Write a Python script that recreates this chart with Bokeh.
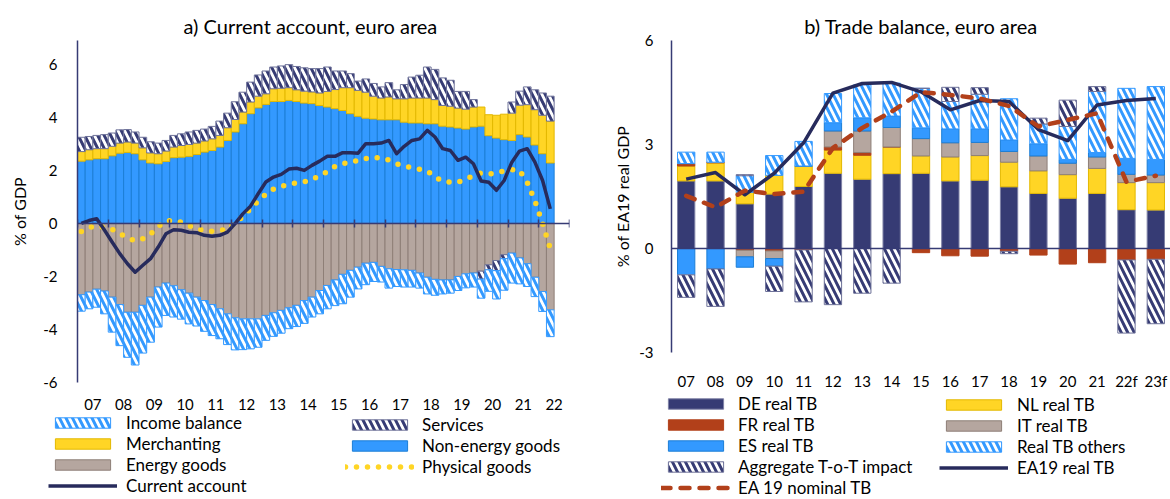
import numpy as np
from bokeh.plotting import figure
from bokeh.models import Range1d, FixedTicker, LinearAxis, Legend, LegendItem, Span
from bokeh.layouts import row, column
from bokeh.embed import file_html
from bokeh.resources import INLINE

# ---------------- data: panel a (quarterly, 2007Q1-2022Q2) ----------------
year_labels_a = ["07", "08", "09", "10", "11", "12", "13", "14", "15", "16",
                 "17", "18", "19", "20", "21", "22"]
first_year_a = 2007
y_ticks_a = [-6, -4, -2, 0, 2, 4, 6]

non_energy = [2.35, 2.40, 2.44, 2.44, 2.55, 2.65, 2.68, 2.63, 2.40, 2.28,
              2.25, 2.34, 2.48, 2.50, 2.53, 2.60, 2.69, 2.75, 2.88, 3.13,
              3.45, 3.76, 4.14, 4.36, 4.49, 4.60, 4.60, 4.64, 4.60, 4.54,
              4.52, 4.45, 4.39, 4.33, 4.26, 4.14, 4.04, 3.97, 3.94, 3.91,
              3.91, 3.91, 3.82, 3.79, 3.79, 3.76, 3.76, 3.67, 3.64, 3.60,
              3.56, 3.64, 3.67, 3.31, 3.22, 3.16, 3.13, 3.35, 3.26, 2.96,
              2.63, 2.28]
merchanting = [0.36, 0.38, 0.38, 0.38, 0.36, 0.38, 0.39, 0.40, 0.45, 0.38,
               0.38, 0.39, 0.40, 0.44, 0.45, 0.43, 0.42, 0.44, 0.44, 0.48,
               0.47, 0.44, 0.44, 0.44, 0.40, 0.48, 0.50, 0.48, 0.44, 0.45,
               0.44, 0.47, 0.59, 0.72, 0.86, 0.98, 0.98, 0.98, 0.86, 0.82,
               0.86, 0.79, 0.88, 0.94, 0.94, 0.97, 0.91, 0.78, 0.78, 0.75,
               0.75, 0.75, 0.72, 0.79, 0.86, 0.96, 1.03, 1.11, 1.22, 1.33,
               1.45, 1.58]
services = [0.54, 0.50, 0.50, 0.53, 0.50, 0.50, 0.47, 0.42, 0.40, 0.42,
            0.40, 0.40, 0.44, 0.44, 0.47, 0.48, 0.45, 0.47, 0.54, 0.55,
            0.67, 0.75, 0.75, 0.80, 0.86, 0.82, 0.84, 0.87, 0.88, 0.88,
            0.88, 0.92, 0.92, 0.70, 0.63, 0.53, 0.35, 0.50, 0.48, 0.42,
            0.54, 0.34, 0.54, 0.79, 0.86, 1.17, 1.14, 1.04, 0.98, 0.63,
            0.67, 0.28, -0.30, -0.19, -0.38, -0.15, 0.42, 0.53, 0.67, 0.75,
            0.84, 0.94]
energy = [-2.69, -2.59, -2.48, -2.55, -2.78, -3.06, -3.35, -3.35, -3.09, -2.78,
          -2.40, -2.25, -2.35, -2.50, -2.63, -2.78, -2.91, -3.06, -3.22, -3.41,
          -3.56, -3.60, -3.60, -3.60, -3.47, -3.37, -3.28, -3.18, -3.09, -2.91,
          -2.78, -2.53, -2.34, -2.13, -1.92, -1.77, -1.65, -1.50, -1.47, -1.62,
          -1.71, -1.74, -1.75, -1.77, -1.87, -2.03, -2.11, -2.13, -2.13, -2.00,
          -1.90, -1.87, -1.80, -1.56, -1.40, -1.18, -1.12, -1.30, -1.52, -2.03,
          -2.57, -3.26]
income = [-0.62, -0.63, -0.68, -0.86, -1.32, -1.55, -1.70, -1.99, -1.80, -1.70,
          -1.51, -1.22, -1.18, -1.11, -1.16, -1.09, -1.16, -1.17, -1.13, -1.16,
          -1.21, -1.16, -1.13, -1.07, -0.94, -0.89, -0.86, -0.79, -0.80, -0.86,
          -0.75, -0.88, -0.88, -0.97, -1.11, -1.01, -0.82, -0.81, -0.72, -0.59,
          -0.73, -0.64, -0.65, -0.63, -0.57, -0.63, -0.60, -0.53, -0.50, -0.53,
          -0.53, -0.53, -0.72, -0.81, -1.07, -1.19, -1.13, -0.98, -0.86, -0.73,
          -0.75, -1.01]
current_account = [0.00, 0.11, 0.18, -0.25, -0.70, -1.14, -1.52, -1.84, -1.58, -1.33,
                   -0.89, -0.39, -0.24, -0.26, -0.33, -0.35, -0.45, -0.48, -0.45, -0.33,
                   -0.01, 0.36, 0.65, 1.12, 1.56, 1.75, 1.85, 2.05, 2.08, 2.00,
                   2.19, 2.35, 2.53, 2.53, 2.67, 2.67, 2.65, 3.01, 3.01, 3.03,
                   3.13, 2.63, 2.91, 3.13, 3.19, 3.51, 3.26, 2.82, 2.75, 2.38,
                   2.50, 2.25, 1.60, 1.55, 1.25, 1.62, 2.31, 2.73, 2.82, 2.31,
                   1.62, 0.55]
physical_goods = [-0.30, -0.15, -0.10, -0.15, -0.22, -0.38, -0.55, -0.66, -0.58, -0.40,
                  -0.12, 0.10, 0.11, 0.05, -0.08, -0.20, -0.27, -0.30, -0.27, -0.22,
                  0.03, 0.25, 0.55, 0.85, 1.10, 1.30, 1.40, 1.48, 1.53, 1.57,
                  1.65, 1.80, 1.95, 2.15, 2.26, 2.30, 2.38, 2.45, 2.50, 2.46,
                  2.39, 2.25, 2.16, 2.10, 2.04, 1.98, 1.75, 1.60, 1.55, 1.55,
                  1.68, 1.80, 1.90, 1.86, 1.90, 1.98, 2.03, 2.00, 1.55, 0.85,
                  0.00, -0.95]

# ---------------- data: panel b (annual, 2007-2023f) ----------------
cats_b = ["07", "08", "09", "10", "11", "12", "13", "14", "15", "16", "17",
          "18", "19", "20", "21", "22f", "23f"]
y_ticks_b = [-3, 0, 3, 6]
de_tb = [1.95, 1.95, 1.29, 1.57, 1.79, 2.17, 2.00, 2.16, 2.17, 1.95, 1.97, 1.78, 1.59, 1.45, 1.59, 1.12, 1.11]
nl_tb = [0.43, 0.52, 0.33, 0.54, 0.59, 0.67, 0.69, 0.77, 0.50, 0.69, 0.71, 0.71, 0.65, 0.68, 0.72, 0.78, 0.79]
fr_tb = [0.07, 0.02, -0.05, -0.07, -0.04, 0.09, 0.08, 0.00, -0.12, -0.21, -0.22, -0.08, -0.19, -0.45, -0.41, -0.33, -0.31]
it_tb = [0.00, 0.00, -0.19, -0.22, 0.00, 0.46, 0.62, 0.56, 0.50, 0.41, 0.38, 0.31, 0.43, 0.33, 0.33, 0.24, 0.22]
es_tb = [-0.76, -0.59, -0.30, -0.22, 0.00, 0.24, 0.38, 0.33, 0.31, 0.40, 0.39, 0.33, 0.35, 0.11, 0.13, 0.46, 0.45]
others_tb = [0.33, 0.29, 0.48, 0.57, 0.71, 0.84, 0.95, 0.95, 1.14, 0.79, 1.00, 1.19, 0.57, 0.95, 1.76, 2.02, 2.10]
tot_impact = [-0.65, -1.08, 0.03, -0.73, -1.50, -1.62, -1.29, -1.00, 0.00, 0.41, 0.19, -0.07, 0.17, 0.76, 0.14, -2.11, -1.86]
ea19_real = [2.00, 2.19, 1.55, 2.17, 3.05, 4.48, 4.76, 4.79, 4.52, 4.00, 4.27, 4.24, 3.43, 3.11, 4.14, 4.27, 4.33]
ea19_nominal = [1.52, 1.19, 1.67, 1.57, 1.64, 2.90, 3.48, 3.95, 4.51, 4.43, 4.33, 4.11, 3.52, 3.71, 3.90, 1.92, 2.10]

# ---------------- styling ----------------
FONT = "Lato"
NAVY = "#363B74"
LINE_NAVY = "#272B5C"
BLUE = "#3399FF"
BLUE_EDGE = "#1C7ED6"
YELLOW = "#FFD525"
YELLOW_EDGE = "#E3B800"
TAN = "#B5A69F"
TAN_EDGE = "#8E7F77"
RUST = "#B2401A"
HATCH = "left_diagonal_line"
HSCALE = 13
HWEIGHT = 3
BOTTOM_A = 34
BOTTOM_B = 37

STY = {
    "ne": dict(fill_color=BLUE, line_color=BLUE_EDGE, line_width=1),
    "en": dict(fill_color=TAN, line_color=TAN_EDGE, line_width=1),
    "me": dict(fill_color=YELLOW, line_color=YELLOW_EDGE, line_width=1),
    "se": dict(fill_color="white", line_color="#6E7299", line_width=1, hatch_pattern=HATCH,
               hatch_color=NAVY, hatch_scale=HSCALE, hatch_weight=HWEIGHT),
    "in": dict(fill_color="white", line_color=BLUE, line_width=1, hatch_pattern=HATCH,
               hatch_color=BLUE, hatch_scale=HSCALE, hatch_weight=HWEIGHT),
    "pg": dict(line_color=YELLOW, line_width=5.5, line_dash="0 11", line_cap="round"),
    "ca": dict(line_color=LINE_NAVY, line_width=3.5, line_join="round"),
    "de": dict(fill_color=NAVY, line_color="#7F82A6", line_width=1),
    "nl": dict(fill_color=YELLOW, line_color=YELLOW_EDGE, line_width=1),
    "fr": dict(fill_color=RUST, line_color=RUST, line_width=1),
    "it": dict(fill_color=TAN, line_color=TAN_EDGE, line_width=1),
    "es": dict(fill_color=BLUE, line_color=BLUE_EDGE, line_width=1),
    "ot": dict(fill_color="white", line_color=BLUE, line_width=1, hatch_pattern=HATCH,
               hatch_color=BLUE, hatch_scale=HSCALE, hatch_weight=HWEIGHT),
    "tot": dict(fill_color="white", line_color="#6E7299", line_width=1, hatch_pattern=HATCH,
                hatch_color=NAVY, hatch_scale=HSCALE, hatch_weight=HWEIGHT),
    "real": dict(line_color=LINE_NAVY, line_width=3.5, line_join="round"),
    "nom": dict(line_color=RUST, line_width=4.5, line_dash="9 10", line_cap="round"),
}


def signed_stack(series_list):
    n = len(series_list[0])
    pos = np.zeros(n)
    neg = np.zeros(n)
    out = []
    for s in series_list:
        s = np.asarray(s, dtype=float)
        base = np.where(s >= 0, pos, neg)
        top = base + s
        pos = np.where(s >= 0, top, pos)
        neg = np.where(s < 0, top, neg)
        out.append((base, top))
    return out


def style_common(p, yticks):
    p.xgrid.visible = False
    p.ygrid.visible = False
    p.outline_line_color = None
    p.title.text_font = FONT
    p.title.text_font_size = "20px"
    p.title.text_font_style = "normal"
    p.title.text_color = "black"
    p.title.standoff = 5
    for ax in (p.xaxis[0], p.yaxis[0]):
        ax.major_label_text_font = FONT
        ax.major_label_text_font_size = "15px"
        ax.major_label_text_color = "black"
        ax.major_tick_in = 0
        ax.major_tick_out = 0
        ax.minor_tick_line_color = None
        ax.axis_label_text_font = FONT
        ax.axis_label_text_font_size = "16px"
        ax.axis_label_text_font_style = "normal"
        ax.axis_label_text_color = "black"
    ya = p.yaxis[0]
    ya.axis_line_color = NAVY
    ya.axis_line_width = 1.5
    ya.major_tick_line_color = None
    ya.ticker = FixedTicker(ticks=yticks)
    ya.major_label_overrides = {t: str(t) for t in yticks}
    p.xaxis[0].axis_line_color = None
    p.xaxis[0].major_tick_line_color = None


def legend_figure(width, height, x_range):
    # legend-only canvas: its y-range lies far away from every value, so only legends show
    f = figure(width=width, height=height, x_range=x_range, y_range=Range1d(50, 51),
               x_axis_type=None, y_axis_type=None, output_backend="svg", toolbar_location=None,
               min_border=0, min_border_left=0, min_border_right=0, min_border_top=0,
               min_border_bottom=0, outline_line_color=None, frame_align=False)
    f.xgrid.visible = False
    f.ygrid.visible = False
    return f


def legend_bar(f, key, label, x, bottom, top, width):
    r = f.vbar(x=x, bottom=bottom, top=top, width=width, **STY[key])
    return LegendItem(label=label, renderers=[r])


def legend_line(f, key, label, x, y):
    r = f.line(x=x, y=y, **STY[key])
    return LegendItem(label=label, renderers=[r])


def make_legend(items, loc, standoff, row_h=20):
    return Legend(items=items, location=loc, orientation="vertical",
                  glyph_width=69, glyph_height=13, label_standoff=standoff,
                  label_height=row_h, spacing=0, padding=0, margin=0,
                  border_line_color=None, background_fill_alpha=0,
                  label_text_font=FONT, label_text_font_size="17px",
                  label_text_line_height=1.0, label_text_color="black")


# ================= panel a =================
xq = [first_year_a + (i + 0.5) / 4 for i in range(len(non_energy))]
n_years = len(year_labels_a)

p1 = figure(width=600, height=382 + BOTTOM_A, x_range=Range1d(first_year_a, first_year_a + n_years),
            y_range=Range1d(-6, 6.9), output_backend="svg", toolbar_location=None,
            min_border_left=77, min_border_right=31, min_border_top=40, min_border_bottom=BOTTOM_A,
            title="a) Current account, euro area", frame_align=False)
style_common(p1, y_ticks_a)
p1.title.align = "left"
p1.title.offset = 106

stk = signed_stack([non_energy, energy, merchanting, services, income])
(b_ne, t_ne), (b_en, t_en), (b_me, t_me), (b_se, t_se), (b_in, t_in) = stk
W = 0.25
p1.vbar(x=xq, bottom=b_ne, top=t_ne, width=W, **STY["ne"])
p1.vbar(x=xq, bottom=b_en, top=t_en, width=W, **STY["en"])
p1.vbar(x=xq, bottom=b_me, top=t_me, width=W, **STY["me"])
p1.vbar(x=xq, bottom=b_se, top=t_se, width=W, **STY["se"])
p1.vbar(x=xq, bottom=b_in, top=t_in, width=W, **STY["in"])
p1.line(x=xq, y=physical_goods, **STY["pg"])
p1.line(x=xq, y=current_account, **STY["ca"])

p1.yaxis[0].major_label_standoff = 20
p1.yaxis[0].axis_label = "% of GDP"
p1.yaxis[0].axis_label_standoff = 11

xt = [first_year_a + i + 0.5 for i in range(n_years)]
p1.xaxis[0].ticker = FixedTicker(ticks=xt)
p1.xaxis[0].major_label_overrides = {t: lab for t, lab in zip(xt, year_labels_a)}
p1.xaxis[0].major_label_standoff = 16

zero_ax = LinearAxis(fixed_location=0,
                     ticker=FixedTicker(ticks=[first_year_a + i for i in range(n_years + 1)]),
                     major_tick_in=4, major_tick_out=4, axis_line_color=NAVY, axis_line_width=1.5,
                     major_tick_line_color=NAVY, major_tick_line_width=1.5, minor_tick_line_color=None,
                     major_label_standoff=0, major_label_text_font_size="1px", major_label_text_alpha=0)
p1.add_layout(zero_ax, "below")

lf1 = legend_figure(600, 499 - (382 + BOTTOM_A), Range1d(first_year_a, first_year_a + n_years))
lf1.add_layout(make_legend([
    legend_bar(lf1, "in", "Income balance", xq, b_in, t_in, W),
    legend_bar(lf1, "me", "Merchanting", xq, b_me, t_me, W),
    legend_bar(lf1, "en", "Energy goods", xq, b_en, t_en, W),
    legend_line(lf1, "ca", "Current account", xq, current_account),
], (48, 3), 9, 19))
lf1.add_layout(make_legend([
    legend_bar(lf1, "se", "Services", xq, b_se, t_se, W),
    legend_bar(lf1, "ne", "Non-energy goods", xq, b_ne, t_ne, W),
    legend_line(lf1, "pg", "Physical goods", xq, physical_goods),
], (345, 22), 8, 19))

# ================= panel b =================
xc = list(range(len(cats_b)))
p2 = figure(width=570, height=355 + BOTTOM_B, x_range=Range1d(-0.5, len(cats_b) - 0.5),
            y_range=Range1d(-3, 6), output_backend="svg", toolbar_location=None,
            min_border_left=71, min_border_right=0, min_border_top=40, min_border_bottom=BOTTOM_B,
            title="b) Trade balance, euro area", frame_align=False)
style_common(p2, y_ticks_b)
p2.title.align = "center"

stk2 = signed_stack([de_tb, nl_tb, fr_tb, it_tb, es_tb, others_tb, tot_impact])
keys_b = ["de", "nl", "fr", "it", "es", "ot", "tot"]
WB = 0.59
for (b, t), key in zip(stk2, keys_b):
    p2.vbar(x=xc, bottom=b, top=t, width=WB, **STY[key])

p2.add_layout(Span(location=0, dimension="width", line_color=NAVY, line_width=1.5))
p2.line(x=xc, y=ea19_real, **STY["real"])
p2.line(x=xc, y=ea19_nominal, **STY["nom"])

p2.yaxis[0].major_label_standoff = 18
p2.yaxis[0].axis_label = "% of EA19 real GDP"
p2.yaxis[0].axis_label_standoff = 4
p2.xaxis[0].ticker = FixedTicker(ticks=xc)
p2.xaxis[0].major_label_overrides = {i: lab for i, lab in zip(xc, cats_b)}
p2.xaxis[0].major_label_standoff = 19

sb = dict(zip(keys_b, stk2))
lf2 = legend_figure(570, 499 - (355 + BOTTOM_B), Range1d(-0.5, len(cats_b) - 0.5))
lf2.add_layout(make_legend([
    legend_bar(lf2, "de", "DE real TB", xc, *sb["de"], WB),
    legend_bar(lf2, "fr", "FR real TB", xc, *sb["fr"], WB),
    legend_bar(lf2, "es", "ES real TB", xc, *sb["es"], WB),
    legend_bar(lf2, "tot", "Aggregate T-o-T impact", xc, *sb["tot"], WB),
    legend_line(lf2, "nom", "EA 19 nominal TB", xc, ea19_nominal),
], (61, 1), 8))
lf2.add_layout(make_legend([
    legend_bar(lf2, "nl", "NL real TB", xc, *sb["nl"], WB),
    legend_bar(lf2, "it", "IT real TB", xc, *sb["it"], WB),
    legend_bar(lf2, "ot", "Real TB others", xc, *sb["ot"], WB),
    legend_line(lf2, "real", "EA19 real TB", xc, ea19_real),
], (339, 21), 9))

layout = row(column(p1, lf1), column(p2, lf2))
open("out.html", "w").write(file_html(layout, INLINE))
